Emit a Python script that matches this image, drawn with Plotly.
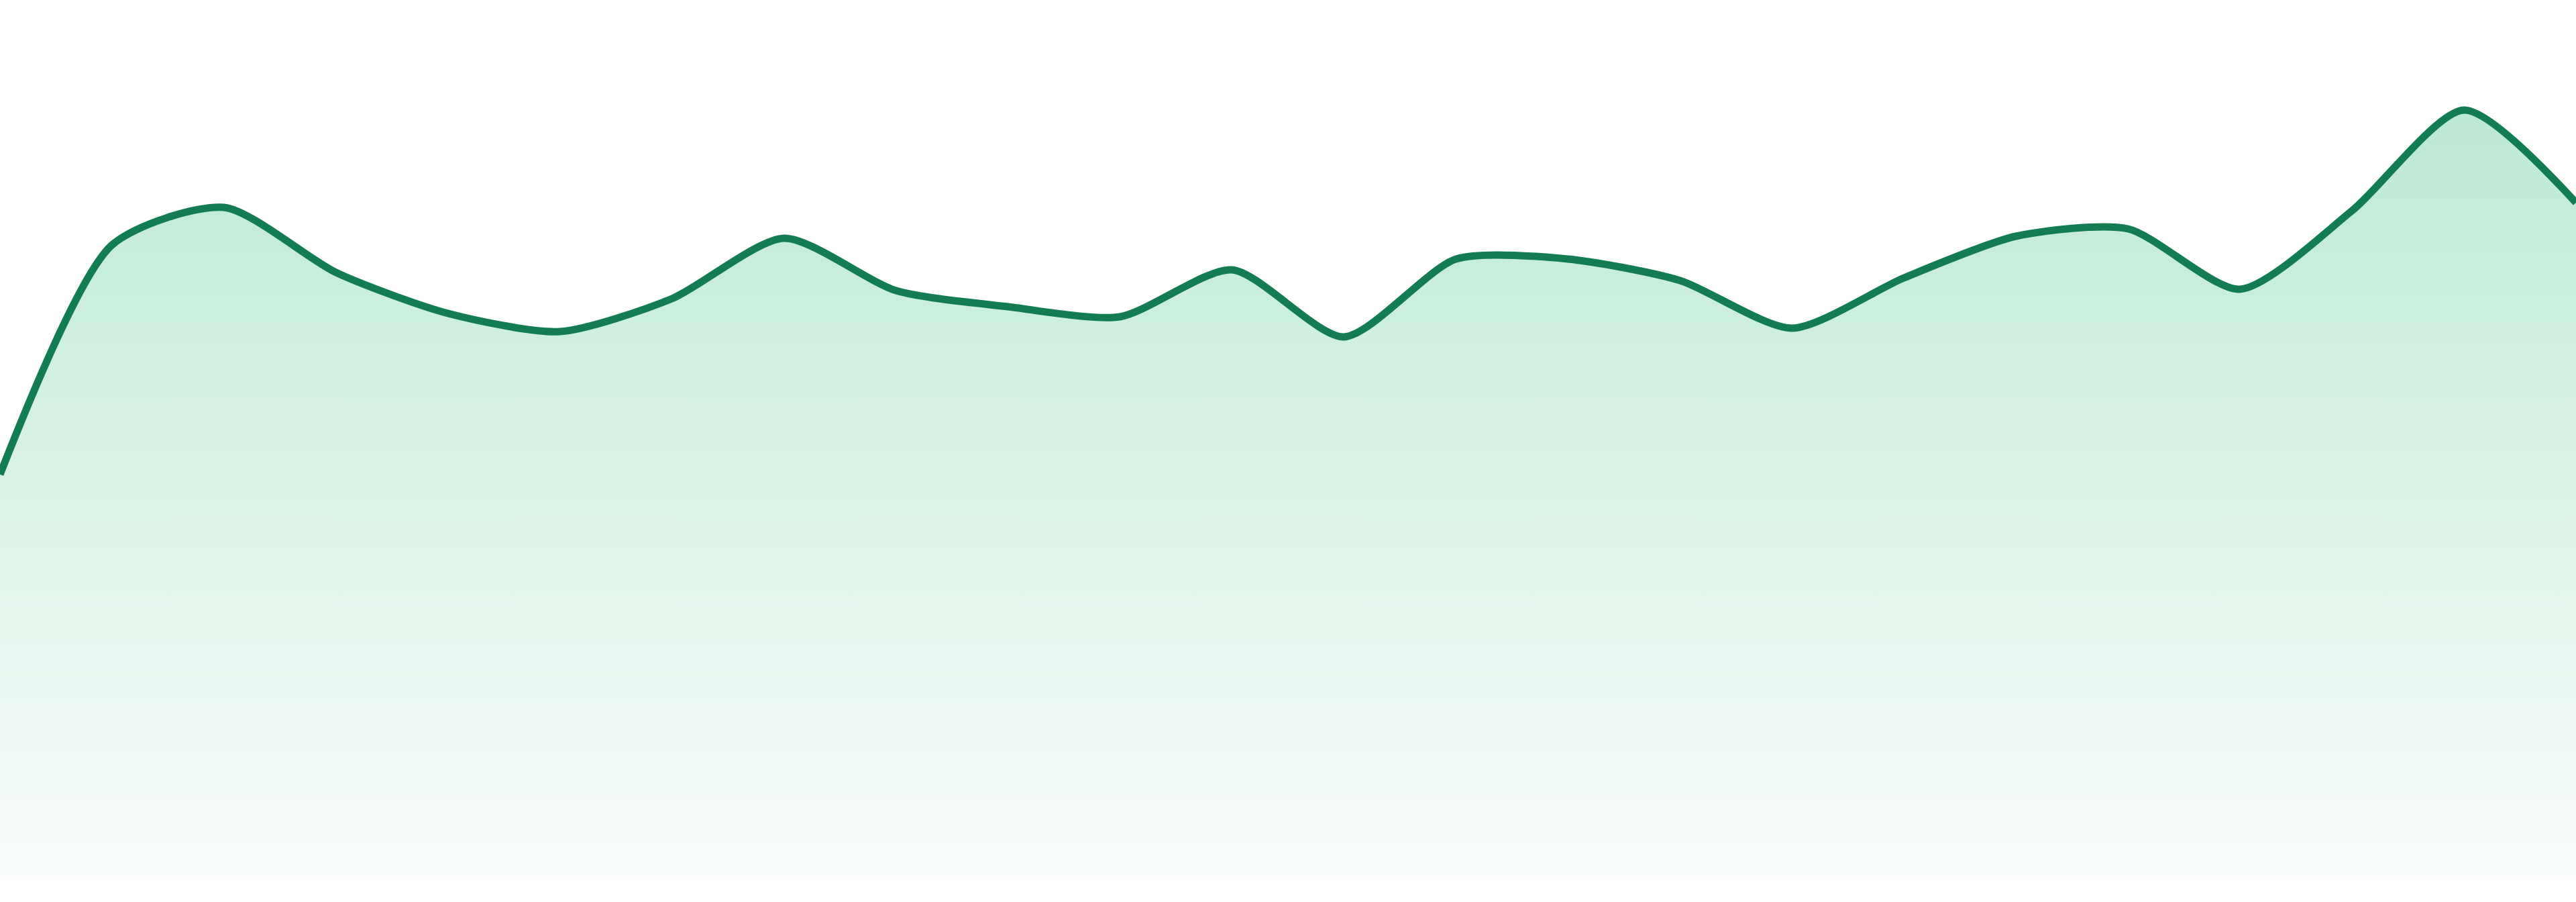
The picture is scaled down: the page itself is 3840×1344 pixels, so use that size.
import plotly.graph_objects as go

# Series values, one per step (24 points, evenly spaced)
steps = list(range(24))
values = [59.8, 94.0, 99.6, 89.9, 83.8, 81.1, 86.0, 95.0, 87.2, 84.8, 83.3, 90.3,
          80.3, 91.9, 91.9, 88.7, 81.6, 89.1, 95.3, 96.4, 87.4, 99.1, 114.1, 100.3]

line_color = '#137c52'

fig = go.Figure()

fig.add_trace(go.Scatter(
    x=steps,
    y=values,
    mode='lines',
    line=dict(color=line_color, width=11, shape='spline', smoothing=0.7),
    fill='tozeroy',
    fillgradient=dict(
        type='vertical',
        start=0,
        stop=max(values),
        colorscale=[[0, 'rgba(250,253,251,1)'], [1, 'rgba(188,233,211,1)']],
    ),
    hoverinfo='skip',
    showlegend=False,
))

fig.update_layout(
    width=3840,
    height=1344,
    margin=dict(l=0, r=0, t=0, b=39),
    paper_bgcolor='white',
    plot_bgcolor='white',
    xaxis=dict(range=[0, 23], visible=False, showgrid=False, zeroline=False),
    yaxis=dict(range=[0, 130.5], visible=False, showgrid=False, zeroline=False),
    modebar=dict(bgcolor='rgba(0,0,0,0)', color='rgba(0,0,0,0)',
                 activecolor='rgba(0,0,0,0)'),
)

# drop the default page margin so the chart sits flush with the window
fig.write_html(
    "out.html",
    config={'displaylogo': False},
    post_script="document.body.style.margin='0';",
)
